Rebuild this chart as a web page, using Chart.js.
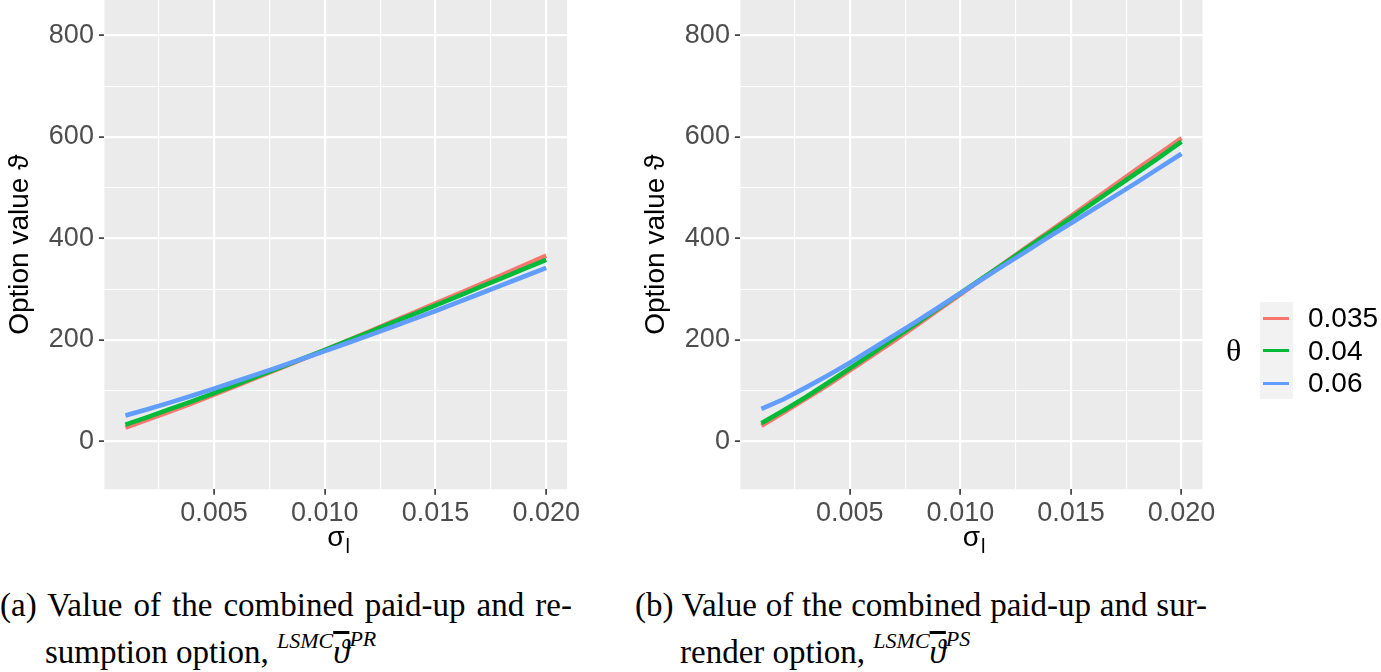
<!DOCTYPE html>
<html>
<head>
<meta charset="utf-8">
<script src="https://cdn.jsdelivr.net/npm/chart.js@4.4.0/dist/chart.umd.min.js"></script>
<style>
  html, body { margin:0; padding:0; background:#fff; width:1381px; height:672px; overflow:hidden; }
  body { position:relative; }
  .wrap { position:absolute; }
  .legend-box { position:absolute; left:1260px; top:302px; width:33px; height:97px; background:#F2F2F2; }
  .key { position:absolute; left:1263px; width:26px; height:3.4px; }
  .lab { position:absolute; left:1308px; font-family:"Liberation Sans", Arial, sans-serif; font-size:28px; color:#000; line-height:32px; height:32px; }
  .ltitle { position:absolute; left:1226px; top:330px; font-family:"Liberation Serif", serif; font-size:32px; line-height:40px; color:#000; }
  .cap { position:absolute; font-family:"Liberation Serif", "Times New Roman", serif; font-size:33px; line-height:47px; color:#000; white-space:nowrap; }
  .cap .l1 { width:572px; text-align:justify; text-align-last:justify; white-space:normal; }
  .cap .l2 { padding-left:45px; }
  .sup { font-style:italic; font-size:22px; position:relative; top:-15px; }
  .ob { font-style:italic; text-decoration:overline; }
  .sup2 { font-style:italic; font-size:22px; position:relative; top:-17px; }
</style>
</head>
<body>
<div class="wrap" style="left:0px;top:0px;width:620px;height:560px;"><canvas id="chartA"></canvas></div>
<div class="wrap" style="left:636px;top:0px;width:600px;height:560px;"><canvas id="chartB"></canvas></div>

<div class="ltitle">θ</div>
<div class="legend-box"></div>
<div class="key" id="k0" style="top:316.6px;"></div>
<div class="key" id="k1" style="top:349px;"></div>
<div class="key" id="k2" style="top:381.6px;"></div>
<div class="lab" id="t0" style="top:302px;"></div>
<div class="lab" id="t1" style="top:334.5px;"></div>
<div class="lab" id="t2" style="top:367px;"></div>

<div class="cap" style="left:0px;top:582px;">
  <div class="l1">(a) Value of the combined paid-up and re-</div>
  <div class="l2">sumption option, <span class="sup">LSMC</span><span class="ob">ϑ</span><span class="sup2">PR</span></div>
</div>
<div class="cap" style="left:635px;top:582px;">
  <div class="l1">(b) Value of the combined paid-up and sur-</div>
  <div class="l2">render option, <span class="sup">LSMC</span><span class="ob">ϑ</span><span class="sup2">PS</span></div>
</div>

<script>
// ---------------- data ----------------
const sigmaL = [0.001,0.002,0.003,0.004,0.005,0.006,0.007,0.008,0.009,0.010,
                0.011,0.012,0.013,0.014,0.015,0.016,0.017,0.018,0.019,0.020];
const thetaLabels = ['0.035', '0.04', '0.06'];
const seriesColors = ['#F8766D', '#00BA38', '#619CFF'];

// (a) paid-up and resumption option
const prTheta035 = [27,43,59,75,92,109.5,127,144.5,162,180,198,216.5,235,253.5,272,290.5,309,328,347,366];
const prTheta04  = [33,48,63.5,79,95,112,129,146,163,180,197.5,215,233,250.5,268,286,304,322,340,358];
const prTheta06  = [51,63.5,76.5,90,104,118.5,133,148,163,178,193.5,209,225,241,257,274,291,308,325,342];

// (b) paid-up and surrender option
const psTheta035 = [31,57,84,111,140,169,198,228,259,290,321,352,383,413,444,475,506,537,567,598];
const psTheta04  = [36,61,87,115,144,173,203,232,262,292,322,351,381,410,440,470,500,530,560,591];
const psTheta06  = [64,83,106,130,155,182,209,236,264,292,320,348,375,403,430,457,484,511,539,567];

// axes
const xLimits = [0.00005, 0.02095];
const yLimits = [-94.4, 870];
const xGridValues = [0.0025,0.005,0.0075,0.010,0.0125,0.015,0.0175,0.020];
const yGridValues = [0,100,200,300,400,500,600,700,800];
const yTitle = 'Option value ϑ';
const xTitle = 'σ';
const xTitleSub = 'l';

// ---------------- legend (HTML) ----------------
thetaLabels.forEach((t, i) => {
  document.getElementById('k' + i).style.background = seriesColors[i];
  document.getElementById('t' + i).textContent = t;
});

// ---------------- chart ----------------
Chart.defaults.font.family = '"Liberation Sans", Arial, sans-serif';
const isMajorX = v => Math.abs(v / 0.005 - Math.round(v / 0.005)) < 1e-6;
const isMajorY = v => Math.round(v) % 200 === 0;

const panelBg = {
  id: 'panelBg',
  beforeDraw(chart) {
    const { ctx, chartArea: { left, top, width, height } } = chart;
    ctx.save();
    ctx.fillStyle = '#EBEBEB';
    ctx.fillRect(left, top, width, height);
    ctx.restore();
  }
};

// subscript "l" after the sigma of the x-axis title
const xSub = {
  id: 'xSub',
  afterDraw(chart) {
    const s = chart.scales.x;
    const ctx = chart.ctx;
    ctx.save();
    ctx.font = '28px "Liberation Sans", "DejaVu Sans", sans-serif';
    const w = ctx.measureText(xTitle).width;
    const cx = (s.left + s.right) / 2;
    ctx.font = '20px "Liberation Sans", sans-serif';
    ctx.fillStyle = '#000';
    ctx.textBaseline = 'alphabetic';
    ctx.textAlign = 'left';
    ctx.fillText(xTitleSub, cx + w / 2 + 1, 553);
    ctx.restore();
  }
};

function makeChart(id, s1, s2, s3, padRight) {
  const arrs = [s1, s2, s3];
  const datasets = arrs.map((arr, i) => ({
    label: thetaLabels[i],
    data: sigmaL.map((x, j) => ({ x: x, y: arr[j] })),
    borderColor: seriesColors[i],
    backgroundColor: seriesColors[i],
    borderWidth: 4.6,
    pointRadius: 0,
    tension: 0,
    fill: false,
    order: 3 - i
  }));
  return new Chart(document.getElementById(id), {
    type: 'line',
    data: { datasets },
    plugins: [panelBg, xSub],
    options: {
      responsive: true,
      maintainAspectRatio: false,
      animation: false,
      layout: { padding: { left: 0, top: 0, bottom: 0, right: padRight } },
      plugins: { legend: { display: false }, tooltip: { enabled: false } },
      scales: {
        x: {
          type: 'linear',
          min: xLimits[0], max: xLimits[1],
          border: { display: false },
          afterBuildTicks: s => { s.ticks = xGridValues.map(v => ({ value: v })); },
          afterFit: s => { s.height = 70.7; },
          grid: {
            color: '#FFFFFF',
            lineWidth: c => isMajorX(c.tick.value) ? 2.2 : 1.1,
            drawTicks: true,
            tickLength: 5.5,
            tickWidth: 1.6,
            tickColor: c => isMajorX(c.tick.value) ? '#333333' : 'rgba(0,0,0,0)'
          },
          ticks: {
            autoSkip: false, maxRotation: 0, minRotation: 0, padding: 3,
            color: '#4D4D4D', font: { size: 27 },
            callback: v => isMajorX(v) ? v.toFixed(3) : ''
          },
          title: {
            display: true, text: xTitle, color: '#000000',
            font: { size: 28, family: '"Liberation Sans", "DejaVu Sans", sans-serif' },
            padding: { top: 0, bottom: 4.7 }
          }
        },
        y: {
          type: 'linear',
          min: yLimits[0], max: yLimits[1],
          border: { display: false },
          afterBuildTicks: s => { s.ticks = yGridValues.map(v => ({ value: v })); },
          afterFit: s => { s.width = 104.4; s.paddingTop = 0; s.paddingBottom = 0; },
          grid: {
            color: '#FFFFFF',
            lineWidth: c => isMajorY(c.tick.value) ? 2.2 : 1.1,
            drawTicks: true,
            tickLength: 5.5,
            tickWidth: 1.6,
            tickColor: c => isMajorY(c.tick.value) ? '#333333' : 'rgba(0,0,0,0)'
          },
          ticks: {
            autoSkip: false, padding: 5,
            color: '#4D4D4D', font: { size: 27 },
            callback: v => isMajorY(v) ? String(v) : ''
          },
          title: {
            display: true, text: yTitle, color: '#000000',
            font: { size: 28, family: '"Liberation Sans", "DejaVu Sans", sans-serif' },
            padding: { top: 3, bottom: 0 }
          }
        }
      }
    }
  });
}

makeChart('chartA', prTheta035, prTheta04, prTheta06, 52.8);
makeChart('chartB', psTheta035, psTheta04, psTheta06, 33.5);
</script>
</body>
</html>
